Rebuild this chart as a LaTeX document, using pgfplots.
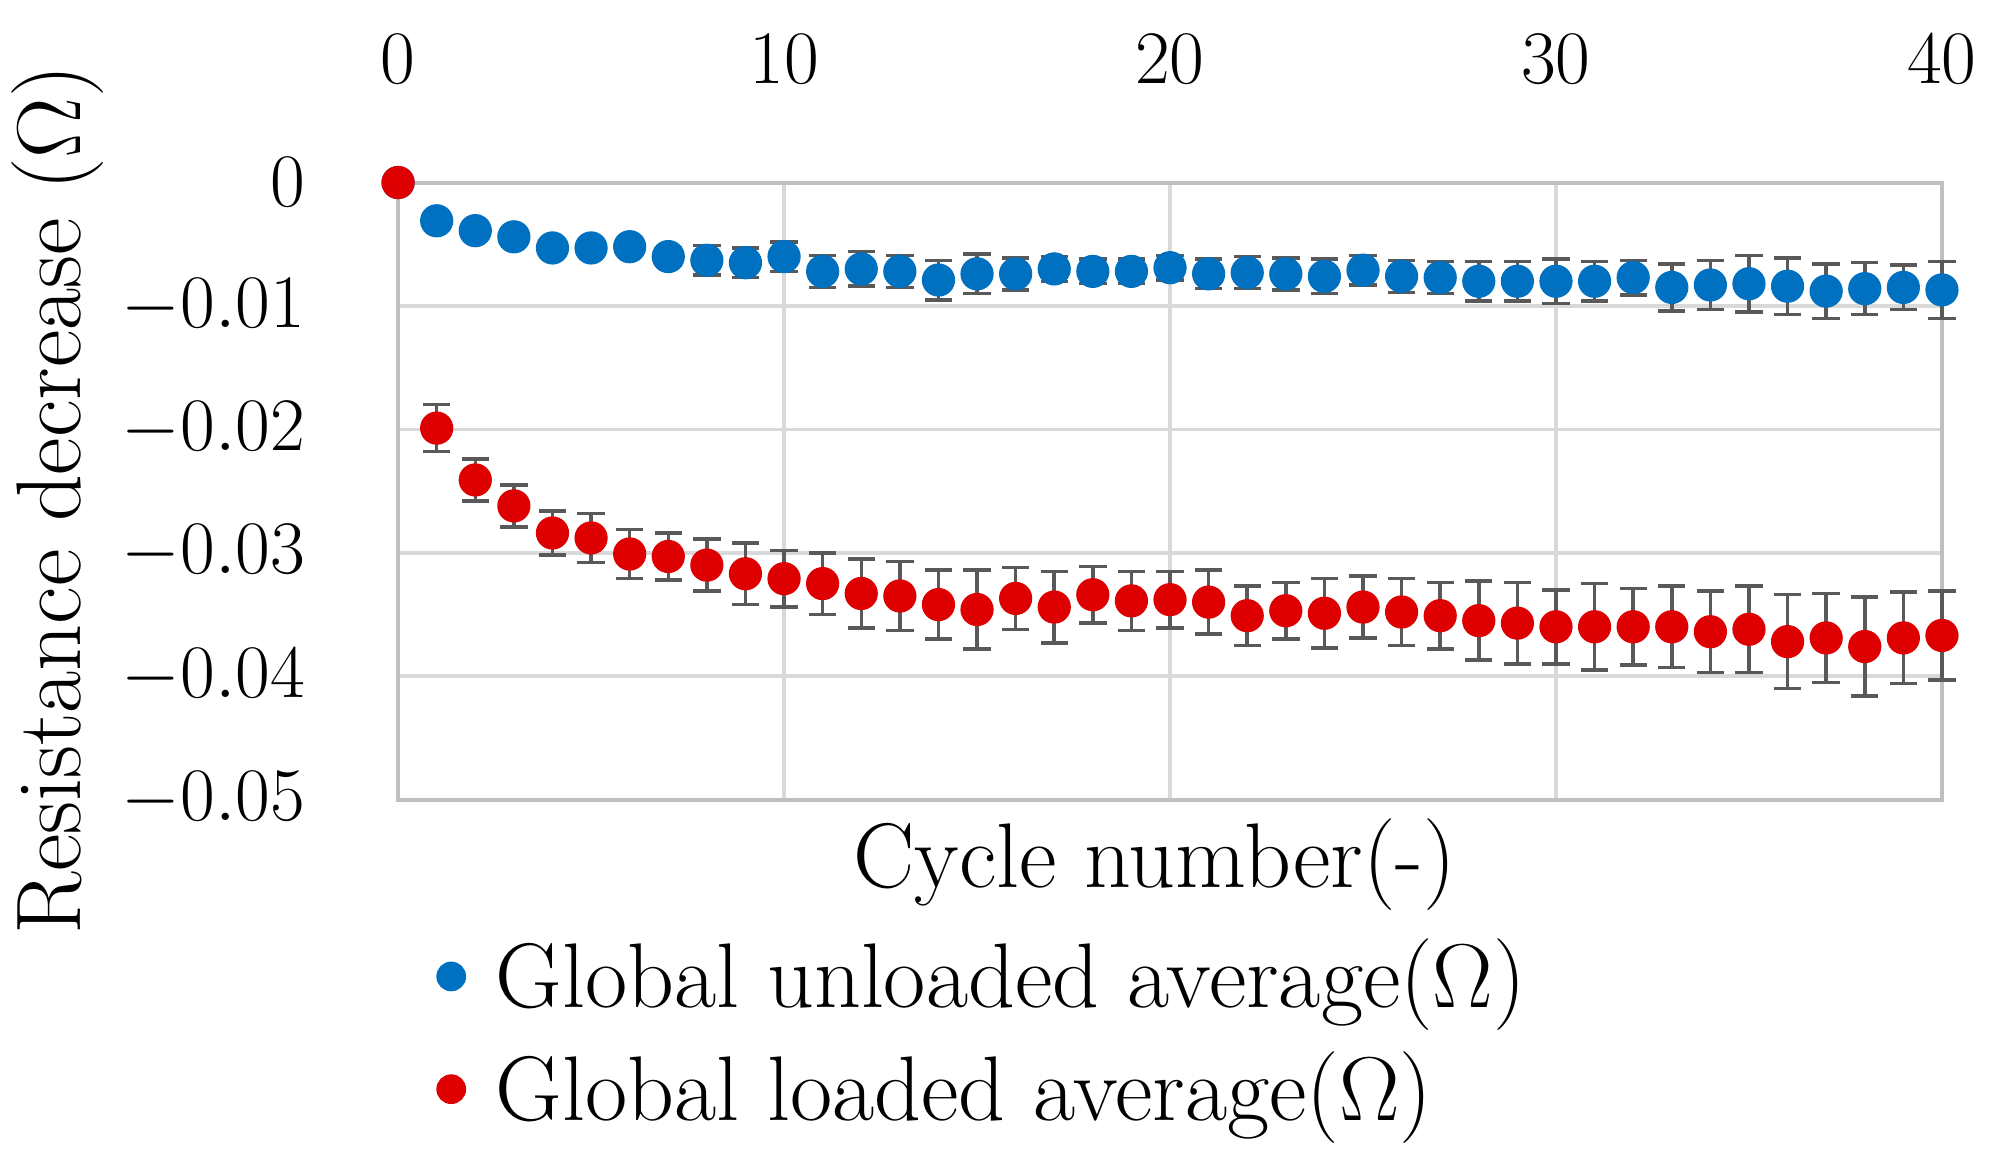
\documentclass[border=0pt]{standalone}
\usepackage{pgfplots}
\pgfplotsset{compat=1.18}
\usepackage{pgfplotstable}

\definecolor{serblue}{RGB}{0,112,192}
\definecolor{serred}{RGB}{222,0,0}
\definecolor{errgray}{RGB}{89,89,89}

\pgfplotstableread{
x y e
0 0 0
1 -0.0031 0.0003
2 -0.0039 0.0004
3 -0.0044 0.0005
4 -0.0053 0.0005
5 -0.0053 0.0005
6 -0.0052 0.0006
7 -0.0060 0.0007
8 -0.0063 0.0012
9 -0.0065 0.0012
10 -0.0060 0.0012
11 -0.0072 0.0013
12 -0.0070 0.0014
13 -0.0072 0.0013
14 -0.0079 0.0016
15 -0.0074 0.0016
16 -0.0074 0.0013
17 -0.0070 0.0010
18 -0.0072 0.0010
19 -0.0072 0.0010
20 -0.0069 0.0010
21 -0.0074 0.0012
22 -0.0073 0.0013
23 -0.0074 0.0013
24 -0.0076 0.0014
25 -0.0071 0.0012
26 -0.0076 0.0013
27 -0.0077 0.0013
28 -0.0080 0.0016
29 -0.0080 0.0016
30 -0.0080 0.0018
31 -0.0080 0.0016
32 -0.0077 0.0014
33 -0.0085 0.0019
34 -0.0083 0.0020
35 -0.0082 0.0023
36 -0.0084 0.0023
37 -0.0088 0.0022
38 -0.0086 0.0021
39 -0.0085 0.0018
40 -0.0087 0.0023
}\unloaded

\pgfplotstableread{
x y e
0 0 0
1 -0.0199 0.0019
2 -0.0241 0.0017
3 -0.0262 0.0017
4 -0.0284 0.0018
5 -0.0288 0.0020
6 -0.0301 0.0020
7 -0.0303 0.0019
8 -0.0310 0.0021
9 -0.0317 0.0025
10 -0.0321 0.0023
11 -0.0325 0.0025
12 -0.0333 0.0028
13 -0.0335 0.0028
14 -0.0342 0.0028
15 -0.0346 0.0032
16 -0.0337 0.0025
17 -0.0344 0.0029
18 -0.0334 0.0023
19 -0.0339 0.0024
20 -0.0338 0.0023
21 -0.0340 0.0026
22 -0.0351 0.0024
23 -0.0347 0.0023
24 -0.0349 0.0028
25 -0.0344 0.0025
26 -0.0348 0.0027
27 -0.0351 0.0027
28 -0.0355 0.0032
29 -0.0357 0.0033
30 -0.0360 0.0030
31 -0.0360 0.0035
32 -0.0360 0.0031
33 -0.0360 0.0033
34 -0.0364 0.0033
35 -0.0362 0.0035
36 -0.0372 0.0038
37 -0.0369 0.0036
38 -0.0376 0.0040
39 -0.0369 0.0037
40 -0.0367 0.0036
}\loaded

\begin{document}
\begin{tikzpicture}
\useasboundingbox (-3.2,-2.894) rectangle (12.804,6.427);
\begin{axis}[
    scale only axis,
    width=12.41cm,
    height=4.96cm,
    xmin=0, xmax=40,
    ymin=-0.05, ymax=0,
    clip=false,
    scaled y ticks=false,
    xtick={0,10,20,30,40},
    ytick={-0.05,-0.04,-0.03,-0.02,-0.01,0},
    yticklabels={$-0.05$,$-0.04$,$-0.03$,$-0.02$,$-0.01$,$0$},
    xticklabel pos=upper,
    major tick length=0pt,
    grid=major,
    major grid style={black!15, line width=0.8pt},
    axis line style={black!25, line width=0.9pt},
    yticklabel style={font=\fontsize{17.5}{20}\selectfont, anchor=east, inner sep=0pt, xshift=-0.74cm},
    xticklabel style={font=\fontsize{19}{22}\selectfont, anchor=base, yshift=0.8cm},
    xlabel={Cycle number(-)},
    ylabel={Resistance decrease ($\Omega$)},
    label style={font=\fontsize{21}{25}\selectfont},
    xlabel style={at={(axis description cs:0.49,-0.105)}, anchor=center},
    ylabel style={at={(axis description cs:-0.2208,0.486)}, anchor=center},
    legend style={at={(axis description cs:0.022,-0.21)}, anchor=north west,
        draw=none, fill=none, inner sep=0pt,
        font=\fontsize{21}{25}\selectfont,
        row sep=0.16cm, cells={anchor=west}},
    legend image code/.code={
        \path (0cm,0cm) (0.42cm,0cm);
        \draw[#1, mark size=3.2pt] plot coordinates {(0.14cm,0cm)};},
]
\addplot+[only marks, mark=*, mark size=3.6pt, color=serblue,
    mark options={fill=serblue, draw=serblue},
    error bars/.cd, y dir=both, y explicit,
    error bar style={line width=0.8pt, errgray},
    error mark options={rotate=90, mark size=0.11cm, line width=0.8pt, errgray}]
    table[x=x, y=y, y error=e] {\unloaded};
\addlegendentry{Global unloaded average($\Omega$)}
\addplot+[only marks, mark=*, mark size=3.6pt, color=serred,
    mark options={fill=serred, draw=serred},
    error bars/.cd, y dir=both, y explicit,
    error bar style={line width=0.8pt, errgray},
    error mark options={rotate=90, mark size=0.11cm, line width=0.8pt, errgray}]
    table[x=x, y=y, y error=e] {\loaded};
\addlegendentry{Global loaded average($\Omega$)}
\end{axis}
\end{tikzpicture}
\end{document}
